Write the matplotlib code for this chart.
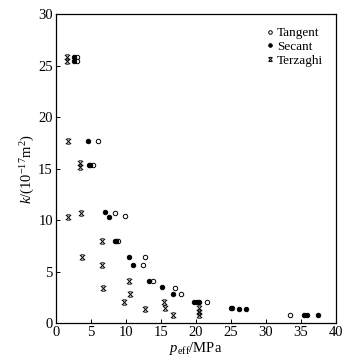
import matplotlib
matplotlib.use("Agg")
import matplotlib.pyplot as plt
from matplotlib.path import Path

# ------------------ DATA ------------------
tangent_p = [3.1, 3.1, 6.0, 5.3, 8.5, 9.95, 8.95, 12.8, 12.4, 13.9, 17.0, 17.9, 21.6, 25.2, 33.4]
tangent_k = [25.8, 25.4, 17.7, 15.4, 10.7, 10.4, 8.0, 6.4, 5.65, 4.07, 3.45, 2.84, 2.07, 1.5, 0.85]

secant_p = [2.6, 2.6, 4.6, 4.7, 4.9, 7.1, 7.6, 8.4, 8.6, 10.5, 11.1, 13.35, 15.1, 16.8,
            19.8, 20.1, 20.4, 25.0, 26.2, 27.2, 35.4, 35.8, 37.4]
secant_k = [25.8, 25.4, 17.7, 15.4, 15.4, 10.75, 10.35, 8.0, 8.0, 6.4, 5.65, 4.07, 3.48, 2.84,
            2.07, 2.07, 2.07, 1.5, 1.38, 1.36, 0.85, 0.85, 0.85]

terz_p = [1.6, 1.6, 1.7, 3.5, 3.5, 1.8, 3.6, 6.6, 3.8, 6.6, 6.7, 10.5, 10.6, 9.7,
          12.7, 15.5, 15.6, 16.7, 20.4, 20.4, 20.4]
terz_k = [25.8, 25.4, 17.7, 15.5, 15.2, 10.35, 10.7, 8.0, 6.4, 5.65, 3.45, 4.07, 2.8, 2.07,
          1.36, 2.05, 1.45, 0.85, 1.45, 1.12, 0.8]

# X with short bars on top and bottom
terz_marker = Path(
    [(-1, -1), (1, 1), (-1, 1), (1, -1), (-0.6, 1), (0.6, 1), (-0.6, -1), (0.6, -1)],
    [Path.MOVETO, Path.LINETO, Path.MOVETO, Path.LINETO,
     Path.MOVETO, Path.LINETO, Path.MOVETO, Path.LINETO])

# ------------------ PLOT ------------------
plt.rcParams["font.family"] = ["Liberation Serif", "DejaVu Serif"]
plt.rcParams["mathtext.fontset"] = "custom"
plt.rcParams["mathtext.rm"] = "Liberation Serif"
plt.rcParams["mathtext.it"] = "Liberation Serif:italic"

fig = plt.figure(figsize=(3.58, 3.63), dpi=100)
ax = fig.add_axes([0.1556, 0.1094, 0.7829, 0.852])

ax.plot(tangent_p, tangent_k, "o", ms=3.2, mfc="white", mec="black", mew=0.7, ls="none", label="Tangent")
ax.plot(secant_p, secant_k, "o", ms=3.2, mfc="black", mec="black", mew=0.7, ls="none", label="Secant")
ax.plot(terz_p, terz_k, marker=terz_marker, ms=3.8, mec="black", mew=0.7, ls="none", label="Terzaghi")

ax.set_xlim(0, 40)
ax.set_ylim(0, 30)
ax.set_xticks(range(0, 41, 5))
ax.set_yticks(range(0, 31, 5))
ax.tick_params(direction="in", length=3, width=0.7, labelsize=10.5, pad=2)
for s in ax.spines.values():
    s.set_linewidth(0.9)

ax.set_xlabel(r"$p_{\rm eff}$/MPa", fontsize=10.5, labelpad=1)
ax.set_ylabel(r"$k$/(10$^{-17}$m$^2$)", fontsize=10.5, labelpad=1)

ax.legend(loc="upper right", frameon=False, fontsize=9.5, handlelength=0.4,
          handletextpad=0.3, labelspacing=0.1, borderaxespad=0.6, markerscale=0.8)

fig.savefig("out.png", dpi=100)
